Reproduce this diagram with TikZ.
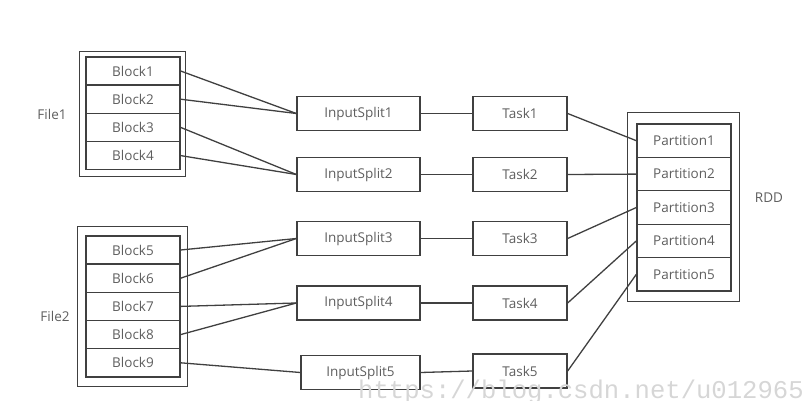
\documentclass[tikz,border=0pt]{standalone}
\usepackage{fontspec}
\setmainfont{Open Sans}
\newfontfamily\wmfont{Liberation Mono}
\usepackage{tikz}
\definecolor{linegray}{HTML}{404040}
\definecolor{txtgray}{HTML}{5E5E5E}
\definecolor{wmgray}{HTML}{D6D6D6}
\tikzset{
  box/.style={draw=linegray,line width=1.3pt,inner sep=0pt,text=txtgray,
    font=\fontsize{13.5}{16}\selectfont},
  blk/.style={box,minimum width=94pt,minimum height=28.2pt},
  part/.style={box,minimum width=94pt,minimum height=33.4pt},
  split/.style={box,minimum width=123pt,minimum height=34pt},
  task/.style={box,minimum width=94pt,minimum height=34pt},
  lbl/.style={text=txtgray,font=\fontsize{13.5}{16}\selectfont},
  wire/.style={draw=linegray,line width=1.3pt},
  frame/.style={draw=linegray,line width=1.3pt}
}

\begin{document}
\begin{tikzpicture}[x=1pt,y=-1pt]
\useasboundingbox (0,0) rectangle (807,401);

% File1
\draw (133,71)    node (b1) [blk] {Block1};
\draw (133,99.2)  node (b2) [blk] {Block2};
\draw (133,127.4) node (b3) [blk] {Block3};
\draw (133,155.6) node (b4) [blk] {Block4};
\draw [frame] ([shift={(-6,-5)}]b1.north west) rectangle ([shift={(5,6)}]b4.south east);
\draw (52,114)    node (f1) [lbl] {File1};

% File2
\draw (133,250)   node (b5) [blk] {Block5};
\draw (133,278.2) node (b6) [blk] {Block6};
\draw (133,306.4) node (b7) [blk] {Block7};
\draw (133,334.6) node (b8) [blk] {Block8};
\draw (133,362.8) node (b9) [blk] {Block9};
\draw [frame] ([shift={(-8,-9)}]b5.north west) rectangle ([shift={(7,9)}]b9.south east);
\draw (55,316)    node (f2) [lbl] {File2};

% splits
\draw (358.5,113.5) node (s1) [split] {InputSplit1};
\draw (358.5,174.5) node (s2) [split] {InputSplit2};
\draw (358.5,238.5) node (s3) [split] {InputSplit3};
\draw (358.5,303)   node (s4) [split] {InputSplit4};
\draw (360.5,372.5) node (s5) [split,minimum width=119pt] {InputSplit5};

% tasks
\draw (520,113.5) node (t1) [task] {Task1};
\draw (520,174.5) node (t2) [task] {Task2};
\draw (520,238.5) node (t3) [task] {Task3};
\draw (520,303)   node (t4) [task] {Task4};
\draw (520,371)   node (t5) [task] {Task5};

% RDD
\draw (684,140.7) node (p1) [part] {Partition1};
\draw (684,174.1) node (p2) [part] {Partition2};
\draw (684,207.5) node (p3) [part] {Partition3};
\draw (684,240.9) node (p4) [part] {Partition4};
\draw (684,274.3) node (p5) [part] {Partition5};
\draw [frame] ([shift={(-9,-11)}]p1.north west) rectangle ([shift={(8,10)}]p5.south east);
\draw (769,198) node (rdd) [lbl] {RDD};

% blocks to splits
\draw [wire] (b1.east) -- (s1.west);
\draw [wire] (b2.east) -- (s1.west);
\draw [wire] (b3.east) -- (s2.west);
\draw [wire] (b4.east) -- (s2.west);
\draw [wire] (b5.east) -- (s3.west);
\draw [wire] (b6.east) -- (s3.west);
\draw [wire] (b7.east) -- (s4.west);
\draw [wire] (b8.east) -- (s4.west);
\draw [wire] (b9.east) -- (s5.west);

% splits to tasks to partitions
\foreach \i in {1,...,5}{
  \draw [wire] (s\i.east) -- (t\i.west);
  \draw [wire] (t\i.east) -- (p\i.west);
}

% watermark
\draw (358,398) node (wm) [anchor=base west,inner sep=0pt,text=wmgray,
  font=\wmfont\fontsize{25.6}{28}\selectfont] {https://blog.csdn.net/u012965};
\end{tikzpicture}
\end{document}
